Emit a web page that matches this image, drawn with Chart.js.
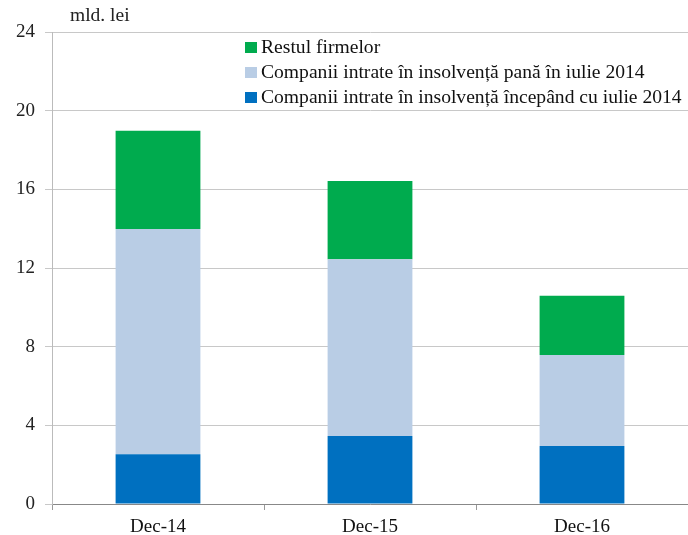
<!DOCTYPE html>
<html>
<head>
<meta charset="utf-8">
<script src="https://cdn.jsdelivr.net/npm/chart.js@4"></script>
<style>
  body { margin: 0; background: #fff; }
  #wrap { position: relative; width: 688px; height: 535px; }
  #unit { position: absolute; left: 70px; top: 4px; font: 19.5px "Liberation Serif", serif; color: #222; }
  #legend { position: absolute; left: 245px; top: 37px; font: 19.6px "Liberation Serif", serif; color: #111; }
  #legend div { height: 25px; line-height: 20px; white-space: nowrap; }
  #legend span { display: inline-block; width: 12px; height: 11px; margin-right: 4px; vertical-align: 0px; }
</style>
</head>
<body>
<div id="wrap">
  <canvas id="chart" width="688" height="535"></canvas>
  <div id="unit">mld. lei</div>
  <div id="legend"></div>
</div>
<script>
// categories and series (mld. lei)
const categories = ['Dec-14', 'Dec-15', 'Dec-16'];
const seriesNames = [
    'Companii intrate în insolvență începând cu iulie 2014',
    'Companii intrate în insolvență pană în iulie 2014',
    'Restul firmelor'
];
const insolvFrom2014 = [2.53, 3.46, 2.95];
const insolvBefore2014 = [11.45, 8.98, 4.62];
const restFirms = [5.0, 3.98, 3.02];
const yTicks = [0, 4, 8, 12, 16, 20, 24];

const colors = ['#0070C0', '#B9CDE5', '#00AB4E'];
const seriesData = [insolvFrom2014, insolvBefore2014, restFirms];

// legend, top entry = top of the stack
const legend = document.getElementById('legend');
for (let i = seriesNames.length - 1; i >= 0; i--) {
    const row = document.createElement('div');
    const box = document.createElement('span');
    box.style.background = colors[i];
    row.appendChild(box);
    row.appendChild(document.createTextNode(seriesNames[i]));
    legend.appendChild(row);
}

const ctx = document.getElementById('chart').getContext('2d');
const font = { family: 'Liberation Serif', size: 19 };

new Chart(ctx, {
    type: 'bar',
    data: {
        labels: categories,
        datasets: seriesNames.map((name, i) => ({
            label: name,
            data: seriesData[i],
            backgroundColor: colors[i],
            categoryPercentage: 1,
            barPercentage: 0.4
        }))
    },
    options: {
        responsive: false,
        animation: false,
        layout: { padding: { top: 32, right: 0, left: 0, bottom: 0 } },
        plugins: { legend: { display: false }, tooltip: { enabled: false } },
        scales: {
            x: {
                stacked: true,
                afterFit: s => { s.height = 31; },
                grid: { offset: true, drawOnChartArea: false, tickLength: 6, color: '#999' },
                border: { color: '#888' },
                ticks: { font: font, color: '#111', padding: 6 }
            },
            y: {
                stacked: true,
                min: 0,
                max: 24,
                afterFit: s => { s.width = 52; },
                afterBuildTicks: s => { s.ticks = yTicks.map(v => ({ value: v })); },
                grid: { color: '#c8c8c8', tickLength: 7 },
                border: { color: '#bbb' },
                ticks: { font: font, color: '#222', padding: 10 }
            }
        }
    }
});
</script>
</body>
</html>
